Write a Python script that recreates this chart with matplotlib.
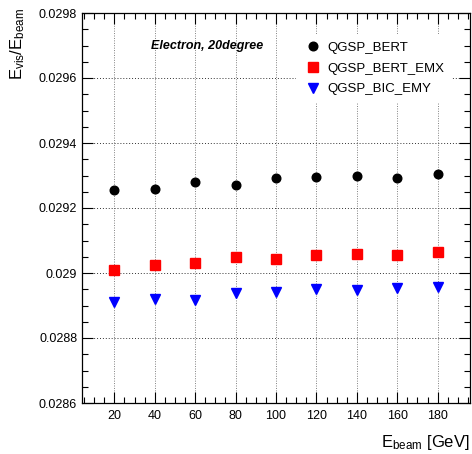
import numpy as np
import matplotlib
matplotlib.use("Agg")
import matplotlib.pyplot as plt
from matplotlib.ticker import MultipleLocator, FuncFormatter

plt.rcParams['font.family'] = ['Liberation Sans', 'DejaVu Sans']
plt.rcParams['mathtext.fontset'] = 'custom'
plt.rcParams['mathtext.rm'] = 'Liberation Sans'
plt.rcParams['mathtext.it'] = 'Liberation Sans:italic'

# beam energies and Evis/Ebeam for each physics list
energy = [20, 40, 60, 80, 100, 120, 140, 160, 180]
qgsp_bert = [0.029256, 0.029258, 0.029280, 0.029271, 0.029293,
             0.029295, 0.029300, 0.029292, 0.029305]
qgsp_bert_emx = [0.029008, 0.029026, 0.029031, 0.029049, 0.029043,
                 0.029054, 0.029059, 0.029056, 0.029065]
qgsp_bic_emy = [0.028910, 0.028921, 0.028917, 0.028939, 0.028942,
                0.028950, 0.028948, 0.028953, 0.028956]

fig = plt.figure(figsize=(4.72, 4.54), dpi=100)
ax = fig.add_axes([82/472, 51/454, 388/472, 390/454])

ax.plot(energy, qgsp_bert, 'o', color='black', markersize=6.2, label='QGSP_BERT', zorder=3)
ax.plot(energy, qgsp_bert_emx, 's', color='#ff0000', markersize=7, label='QGSP_BERT_EMX', zorder=3)
ax.plot(energy, qgsp_bic_emy, 'v', color='#0000ff', markersize=7, label='QGSP_BIC_EMY', zorder=3)

ax.set_xlim(4, 196)
ax.set_ylim(0.0286, 0.0298)

ax.xaxis.set_major_locator(MultipleLocator(20))
ax.xaxis.set_minor_locator(MultipleLocator(5))
ax.yaxis.set_major_locator(MultipleLocator(0.0002))
ax.yaxis.set_minor_locator(MultipleLocator(0.00005))
ax.yaxis.set_major_formatter(FuncFormatter(lambda v, p: f'{v:.4f}'.rstrip('0')))

ax.tick_params(which='both', direction='in', top=True, right=True, labelsize=9)
ax.tick_params(which='major', length=8, width=0.8)
ax.tick_params(which='minor', length=4, width=0.8)
ax.tick_params(axis='x', pad=5)
for s in ax.spines.values():
    s.set_linewidth(0.9)

# dotted grid at the major ticks
ax.xaxis.grid(True, which='major', color='#808080', linestyle=(0, (1, 1.5)), linewidth=0.7)
ax.yaxis.grid(True, which='major', color='#333333', linestyle=(0, (1, 2)), linewidth=0.7)
ax.set_axisbelow(True)

ax.text(38, 0.0297, 'Electron, 20degree', fontsize=9, fontweight='bold',
        fontstyle='italic', va='center', ha='left')

leg = ax.legend(loc='upper left', bbox_to_anchor=(207/388, 0.964), fontsize=9.5,
                frameon=True, fancybox=False, edgecolor='none', facecolor='white',
                framealpha=1, handletextpad=0.3, labelspacing=0.65, borderpad=0.6,
                handlelength=1.5, numpoints=1)

fig.text(18/472, 1 - 8/454, r'E$_{\rm vis}$/E$_{\rm beam}$', rotation=90,
         fontsize=12, ha='center', va='top')
fig.text(470/472, 1 - 452/454, r'E$_{\rm beam}$ [GeV]', fontsize=12,
         ha='right', va='bottom')

fig.savefig('out.png', dpi=100)
